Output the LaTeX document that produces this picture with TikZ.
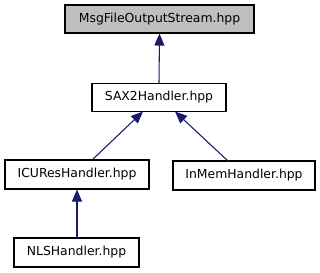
\documentclass[tikz,border=0pt]{standalone}
\usepackage{fontspec}
\setmainfont{DejaVu Sans}
\usetikzlibrary{arrows.meta}
\definecolor{edgeblue}{HTML}{191970}
\definecolor{rootgray}{HTML}{BFBFBF}
\begin{document}
\begin{tikzpicture}[x=0.75pt,y=-0.75pt,
  filebox/.style={draw=black,line width=0.8pt,fill=white,inner sep=0pt,
    font=\fontsize{9.3}{11}\selectfont},
  inherit/.style={draw=edgeblue,line width=0.8pt,
    -{Triangle[width=7.5pt,length=9pt,fill=edgeblue]}}]
\useasboundingbox (0,0) rectangle (320,272);
\node[filebox,fill=rootgray,minimum width=189*0.75pt,minimum height=28*0.75pt] (root) at (159.5,19) {MsgFileOutputStream.hpp};
\node[filebox,minimum width=134*0.75pt,minimum height=28*0.75pt] (sax) at (159,97.5) {SAX2Handler.hpp};
\node[filebox,minimum width=144*0.75pt,minimum height=29*0.75pt] (icu) at (77,174.5) {ICUResHandler.hpp};
\node[filebox,minimum width=142*0.75pt,minimum height=29*0.75pt] (inmem) at (244,175.5) {InMemHandler.hpp};
\node[filebox,minimum width=125*0.75pt,minimum height=29*0.75pt] (nls) at (76.5,252.5) {NLSHandler.hpp};
\coordinate (icutop) at (92,160);
\coordinate (saxleft) at (143,111.5);
\coordinate (inmemtop) at (228,161);
\coordinate (saxright) at (175,111.5);
\draw[inherit] (sax.north) -- (root.south);
\draw[inherit] (icutop) -- (saxleft);
\draw[inherit] (inmemtop) -- (saxright);
\draw[inherit] (nls.north -| 77,0) -- (icu.south -| 77,0);
\end{tikzpicture}
\end{document}
